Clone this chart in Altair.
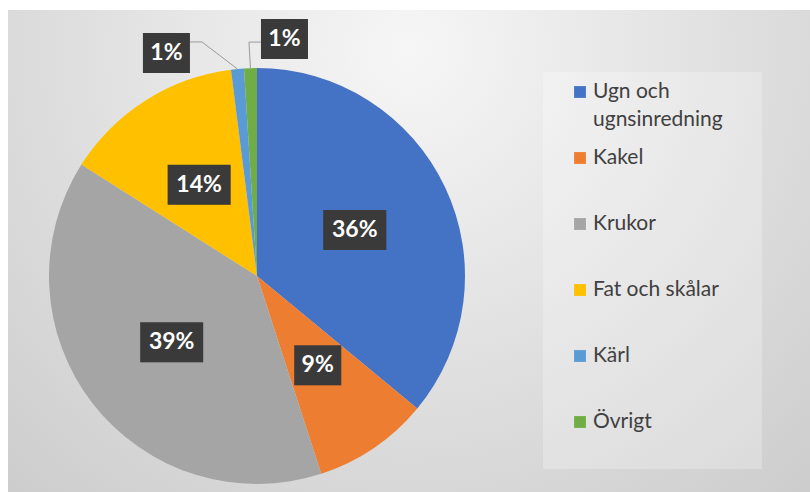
import altair as alt
import pandas as pd

# ---- data ----
categories = ["Ugn och ugnsinredning", "Kakel", "Krukor", "Fat och skålar", "Kärl", "Övrigt"]
legend_labels = ["Ugn och\nugnsinredning", "Kakel", "Krukor", "Fat och skålar", "Kärl", "Övrigt"]
shares = [36, 9, 39, 14, 1, 1]
colors = ["#4472C4", "#ED7D31", "#A5A5A5", "#FFC000", "#5B9BD5", "#70AD47"]

df = pd.DataFrame({"category": categories, "legend": legend_labels, "share": shares})

# ---- layout (pixels) ----
W, H = 810, 492
CX, CY, R = 257, 276, 208
RL = 108  # radius of the inside labels

color = alt.Color("category:N", scale=alt.Scale(domain=categories, range=colors), legend=None)

# background panel with radial gradient
bg = alt.Chart(pd.DataFrame({"a": [0]})).mark_rect(
    fill={
        "gradient": "radial",
        "x1": 0.5, "y1": 0.25, "r1": 0,
        "x2": 0.5, "y2": 0.25, "r2": 0.9,
        "stops": [
            {"offset": 0, "color": "#f6f6f6"},
            {"offset": 0.6, "color": "#d8d8d8"},
            {"offset": 1, "color": "#c4c4c4"},
        ],
    }
).encode(x=alt.value(8), x2=alt.value(W), y=alt.value(10), y2=alt.value(H))

base = alt.Chart(df).transform_window(idx="row_number()")

pie = base.mark_arc(radius=R).encode(
    theta=alt.Theta("share:Q", stack=True),
    color=color,
    order=alt.Order("idx:Q", sort="ascending"),
    x=alt.value(CX),
    y=alt.value(CY),
)

lab = base.transform_joinaggregate(total="sum(share)").transform_window(
    cum="sum(share)", sort=[alt.SortField("idx")], frame=[None, 0]
).transform_calculate(
    mid="(datum.cum - datum.share / 2) / datum.total * 2 * PI",
    text="datum.share + '%'",
).transform_calculate(
    w="15 + 16 * length(datum.text)",
    ax=f"{CX} + {R} * sin(datum.mid)",
    ay=f"{CY} - {R} * cos(datum.mid)",
    left="datum.idx % 2 == 1",
)

inside = lab.transform_filter("datum.share >= 5").transform_calculate(
    lx=f"{CX} + {RL} * sin(datum.mid)",
    ly=f"{CY} - {RL} * cos(datum.mid)",
)
outside = lab.transform_filter("datum.share < 5").transform_calculate(
    lx="datum.left ? datum.ax - 71 : datum.ax + 34",
    ly="datum.left ? datum.ay - 16 : datum.ay - 29",
)


def boxed(src):
    s = src.transform_calculate(
        bx0="datum.lx - datum.w / 2",
        bx1="datum.lx + datum.w / 2",
        by0="datum.ly - 20",
        by1="datum.ly + 20",
    )
    shadow = s.mark_rect(color="#000000", opacity=0.22, xOffset=2, yOffset=2).encode(
        x=alt.X("bx0:Q", scale=None), x2="bx1:Q",
        y=alt.Y("by0:Q", scale=None), y2="by1:Q",
    )
    box = s.mark_rect(color="#3a3a3a").encode(
        x=alt.X("bx0:Q", scale=None), x2="bx1:Q",
        y=alt.Y("by0:Q", scale=None), y2="by1:Q",
    )
    txt = s.mark_text(
        font="Lato", fontWeight="bold", fontSize=23, color="#ffffff",
        align="center", baseline="middle",
    ).encode(
        x=alt.X("lx:Q", scale=None), y=alt.Y("ly:Q", scale=None), text="text:N"
    )
    return [shadow, box, txt]


leader_src = outside.transform_calculate(
    ex="datum.left ? datum.lx + datum.w / 2 : datum.lx - datum.w / 2",
).transform_calculate(
    kx="datum.left ? datum.ex + 12 : datum.ex - 12",
    ky="datum.left ? datum.ly - 11 : datum.ly + 3",
)
leader1 = leader_src.mark_rule(color="#9a9a9a", strokeWidth=1).encode(
    x=alt.X("ax:Q", scale=None), y=alt.Y("ay:Q", scale=None),
    x2="kx:Q", y2="ky:Q",
)
leader2 = leader_src.mark_rule(color="#9a9a9a", strokeWidth=1).encode(
    x=alt.X("kx:Q", scale=None), y=alt.Y("ky:Q", scale=None),
    x2="ex:Q", y2="ky:Q",
)

# legend
legend_box = alt.Chart(pd.DataFrame({"a": [0]})).mark_rect(
    fill="#ffffff", opacity=0.25
).encode(x=alt.value(543), x2=alt.value(762), y=alt.value(72), y2=alt.value(469))

leg_y = alt.Y(
    "category:N",
    sort=categories,
    scale=alt.Scale(type="point", domain=categories, range=[92, 422], padding=0),
    axis=None,
)
leg_sq = alt.Chart(df).mark_square(size=140, opacity=1, filled=True).encode(
    x=alt.value(580), y=leg_y, color=color
)
leg_tx = alt.Chart(df).mark_text(
    align="left", baseline="line-top", lineBreak="\n", lineHeight=28, dy=-14,
    font="Lato", fontSize=21, color="#404040",
).encode(x=alt.value(593), y=leg_y, text="legend:N")

layers = [bg, pie, leader1, leader2] + boxed(inside) + boxed(outside) + [legend_box, leg_sq, leg_tx]

chart = alt.layer(*layers).resolve_scale(
    x="independent", y="independent"
).properties(
    width=W, height=H, padding=0, autosize="none", background="#ffffff"
).configure_view(stroke=None)

chart.save("out.html", embed_options={"renderer": "svg", "actions": False})
